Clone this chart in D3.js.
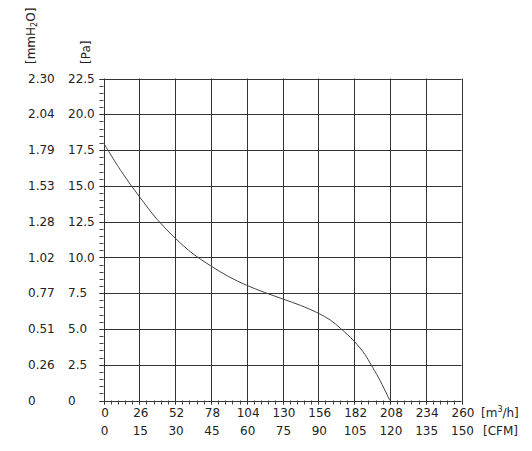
<!DOCTYPE html>
<html>
<head>
<meta charset="utf-8">
<script src="https://cdn.jsdelivr.net/npm/d3@7"></script>
<style>
  body { margin: 0; background: #fff; }
  text { font-family: "DejaVu Sans", Verdana, sans-serif; font-size: 12px; fill: #222; }
</style>
</head>
<body>
<script>
// fan curve
var flow = [0, 13, 26, 39, 52, 65, 78, 91, 104, 117, 130, 143, 156, 165, 172, 182, 190, 194, 200, 208];   // m3/h
var pressure = [18.0, 16.0, 14.25, 12.65, 11.35, 10.25, 9.4, 8.65, 8.05, 7.55, 7.1, 6.65, 6.1, 5.6, 5.05, 4.15, 3.2, 2.55, 1.55, 0];  // Pa

var xTicks = [0, 26, 52, 78, 104, 130, 156, 182, 208, 234, 260];
var cfmLabels = ["0", "15", "30", "45", "60", "75", "90", "105", "120", "135", "150"];
var paTicks = [0, 2.5, 5, 7.5, 10, 12.5, 15, 17.5, 20, 22.5];
var paLabels = ["0", "2.5", "5.0", "7.5", "10.0", "12.5", "15.0", "17.5", "20.0", "22.5"];
var mmLabels = ["0", "0.26", "0.51", "0.77", "1.02", "1.28", "1.53", "1.79", "2.04", "2.30"];

var width = 532, height = 451;

var x = d3.scaleLinear().domain([0, 260]).range([103.5, 461.5]);
var y = d3.scaleLinear().domain([0, 22.5]).range([400.5, 78.5]);

var svg = d3.select("body")
	.append("svg")
	.attr("width", width)
	.attr("height", height);

// minor ticks
var xMinor = d3.range(0, 260.01, 5.2);
var yMinor = d3.range(0, 22.51, 0.5);

svg.append("g")
	.selectAll("line")
	.data(xMinor)
	.enter()
	.append("line")
	.attr("x1", function(d) { return Math.round(x(d)) + 0.5; })
	.attr("x2", function(d) { return Math.round(x(d)) + 0.5; })
	.attr("y1", y(0))
	.attr("y2", y(0) + 4)
	.attr("stroke", "#444");

svg.append("g")
	.selectAll("line")
	.data(yMinor)
	.enter()
	.append("line")
	.attr("y1", function(d) { return Math.round(y(d)) + 0.5; })
	.attr("y2", function(d) { return Math.round(y(d)) + 0.5; })
	.attr("x1", x(0) - 4)
	.attr("x2", x(0))
	.attr("stroke", "#444");

// grid
svg.append("g")
	.selectAll("line")
	.data(xTicks)
	.enter()
	.append("line")
	.attr("x1", function(d) { return Math.round(x(d)) + 0.5; })
	.attr("x2", function(d) { return Math.round(x(d)) + 0.5; })
	.attr("y1", y(22.5))
	.attr("y2", y(0) + 4)
	.attr("stroke", "#333");

svg.append("g")
	.selectAll("line")
	.data(paTicks)
	.enter()
	.append("line")
	.attr("y1", function(d) { return Math.round(y(d)) + 0.5; })
	.attr("y2", function(d) { return Math.round(y(d)) + 0.5; })
	.attr("x1", x(0) - 4)
	.attr("x2", x(260))
	.attr("stroke", "#333");

// curve
var line = d3.line()
	.x(function(d, i) { return x(flow[i]); })
	.y(function(d) { return y(d); })
	.curve(d3.curveCatmullRom.alpha(0.5));

svg.append("path")
	.attr("d", line(pressure))
	.attr("fill", "none")
	.attr("stroke", "#444")
	.attr("stroke-width", 1);

// y labels
svg.append("g")
	.selectAll("text")
	.data(paTicks)
	.enter()
	.append("text")
	.attr("x", 68)
	.attr("y", function(d) { return y(d); })
	.attr("dy", "0.35em")
	.text(function(d, i) { return paLabels[i]; });

svg.append("g")
	.selectAll("text")
	.data(paTicks)
	.enter()
	.append("text")
	.attr("x", 28)
	.attr("y", function(d) { return y(d); })
	.attr("dy", "0.35em")
	.text(function(d, i) { return mmLabels[i]; });

// x labels
svg.append("g")
	.selectAll("text")
	.data(xTicks)
	.enter()
	.append("text")
	.attr("x", function(d) { return x(d) + 1.5; })
	.attr("y", 417)
	.attr("text-anchor", "middle")
	.text(function(d) { return d; });

svg.append("g")
	.selectAll("text")
	.data(xTicks)
	.enter()
	.append("text")
	.attr("x", function(d) { return x(d) + 1; })
	.attr("y", 434.5)
	.attr("text-anchor", "middle")
	.text(function(d, i) { return cfmLabels[i]; });

// units
var u1 = svg.append("text").attr("x", 481).attr("y", 417);
u1.append("tspan").text("[m");
u1.append("tspan").attr("font-size", "8px").attr("dy", -5).text("3");
u1.append("tspan").attr("dy", 5).text("/h]");

svg.append("text").attr("x", 483).attr("y", 434.5).text("[CFM]");

var u2 = svg.append("text")
	.attr("transform", "translate(35,64) rotate(-90)");
u2.append("tspan").text("[mmH");
u2.append("tspan").attr("font-size", "8px").attr("dy", 2).text("2");
u2.append("tspan").attr("dy", -2).text("O]");

svg.append("text")
	.attr("transform", "translate(90,64) rotate(-90)")
	.text("[Pa]");
</script>
</body>
</html>
